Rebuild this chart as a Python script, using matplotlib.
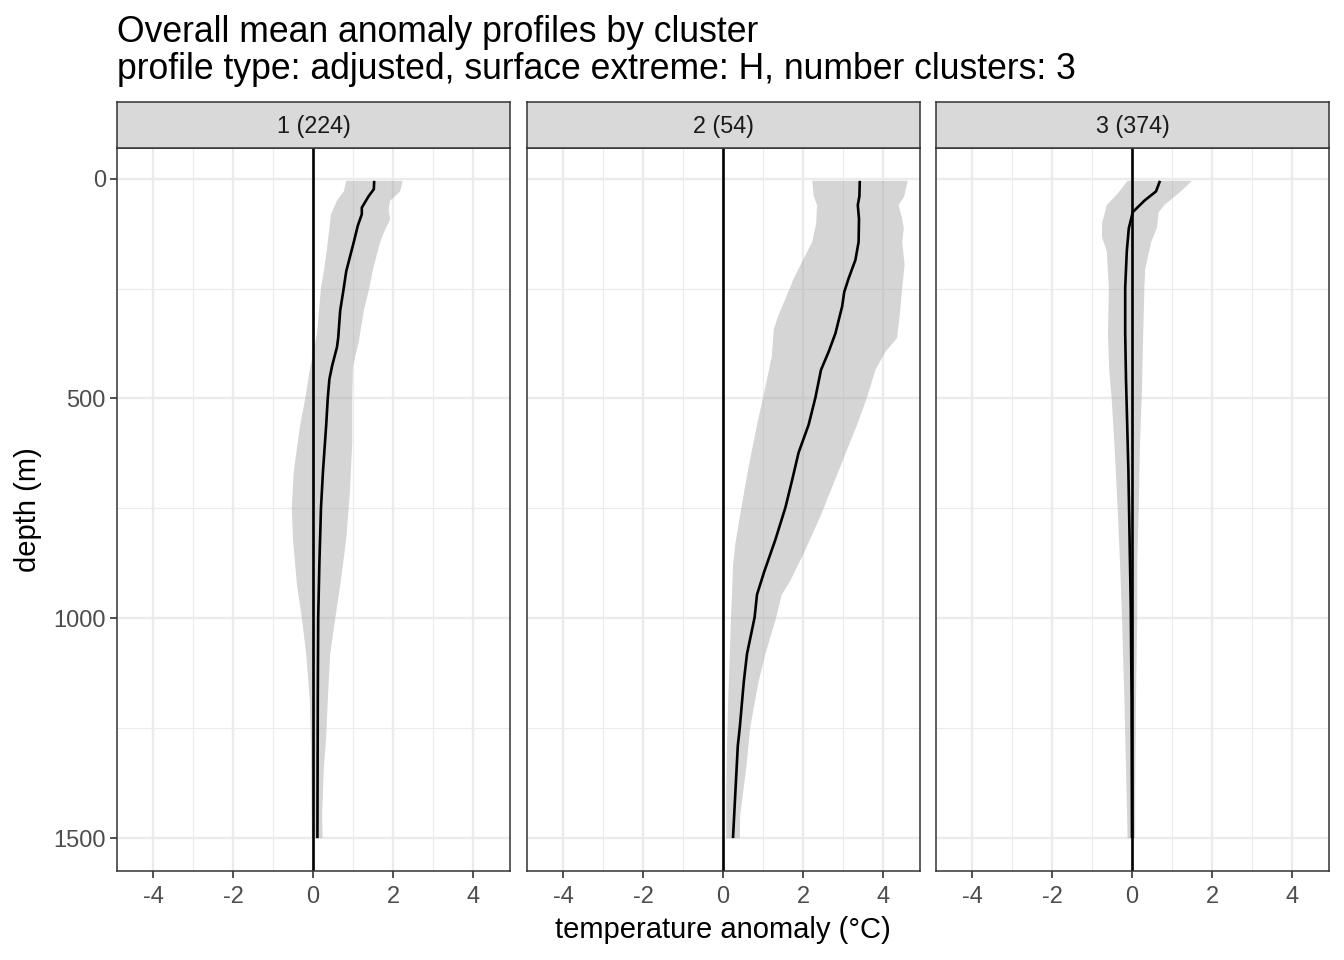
import numpy as np
import matplotlib
matplotlib.use("Agg")
import matplotlib.pyplot as plt
from matplotlib.ticker import FixedLocator

plt.rcParams['font.family'] = ['Liberation Sans', 'DejaVu Sans']
plt.rcParams['axes.unicode_minus'] = False

title_line1 = "Overall mean anomaly profiles by cluster"
title_line2 = "profile type: adjusted, surface extreme: H, number clusters: 3"
strip_labels = ["1 (224)", "2 (54)", "3 (374)"]
xlabel = "temperature anomaly (\u00b0C)"
ylabel = "depth (m)"
x_ticks = [-4, -2, 0, 2, 4]
x_minor = [-3, -1, 1, 3]
y_ticks = [0, 500, 1000, 1500]
y_minor = [250, 750, 1250]

# cluster 1
c1_mean_d = [5, 24, 40, 66, 81, 107, 144, 211, 248, 300, 362, 383, 425, 456, 498, 560, 665, 748, 873, 998, 1185, 1500]
c1_mean_x = [1.53, 1.52, 1.39, 1.22, 1.22, 1.12, 1.02, 0.83, 0.77, 0.68, 0.63, 0.60, 0.48, 0.41, 0.37, 0.33, 0.25, 0.20, 0.16, 0.13, 0.12, 0.11]
c1_lo_d = [5, 29, 50, 81, 144, 206, 248, 352, 383, 435, 498, 560, 665, 748, 821, 925, 998, 1081, 1185, 1290, 1394, 1500]
c1_lo_x = [0.83, 0.77, 0.60, 0.45, 0.37, 0.28, 0.20, 0.10, 0.03, -0.08, -0.19, -0.32, -0.48, -0.53, -0.50, -0.40, -0.28, -0.17, -0.08, -0.05, -0.04, -0.03]
c1_hi_d = [5, 29, 50, 71, 92, 123, 144, 206, 248, 300, 373, 425, 498, 602, 717, 821, 925, 998, 1081, 1185, 1269, 1342, 1446, 1500]
c1_hi_x = [2.24, 2.18, 1.93, 1.89, 1.93, 1.77, 1.68, 1.50, 1.41, 1.27, 1.14, 1.00, 0.98, 0.98, 0.92, 0.83, 0.68, 0.56, 0.43, 0.37, 0.33, 0.27, 0.23, 0.24]

# cluster 2
c2_mean_d = [5, 40, 60, 92, 144, 185, 227, 258, 290, 352, 394, 435, 498, 560, 623, 685, 748, 821, 894, 946, 998, 1081, 1144, 1248, 1290, 1394, 1500]
c2_mean_x = [3.42, 3.41, 3.37, 3.40, 3.39, 3.31, 3.14, 3.03, 2.98, 2.81, 2.64, 2.45, 2.31, 2.14, 1.89, 1.73, 1.56, 1.31, 1.03, 0.85, 0.79, 0.60, 0.52, 0.42, 0.37, 0.31, 0.25]
c2_lo_d = [5, 40, 60, 102, 144, 185, 227, 269, 310, 342, 404, 456, 498, 560, 665, 769, 830, 880, 935, 998, 1081, 1185, 1290, 1394, 1500]
c2_lo_x = [2.23, 2.27, 2.35, 2.33, 2.23, 2.00, 1.77, 1.58, 1.39, 1.27, 1.22, 1.10, 1.00, 0.85, 0.62, 0.42, 0.31, 0.25, 0.23, 0.20, 0.17, 0.13, 0.10, 0.08, 0.08]
c2_hi_d = [5, 40, 60, 92, 113, 144, 196, 248, 310, 363, 394, 435, 498, 560, 665, 769, 852, 915, 946, 998, 1081, 1144, 1248, 1342, 1446, 1500]
c2_hi_x = [4.62, 4.53, 4.39, 4.48, 4.52, 4.48, 4.54, 4.48, 4.42, 4.35, 4.06, 3.81, 3.60, 3.35, 2.89, 2.43, 2.02, 1.68, 1.47, 1.33, 1.06, 0.89, 0.68, 0.58, 0.43, 0.42]

# cluster 3
c3_mean_d = [5, 29, 50, 76, 113, 165, 248, 352, 456, 560, 665, 769, 873, 977, 1185, 1500]
c3_mean_x = [0.70, 0.60, 0.31, 0.02, -0.08, -0.13, -0.17, -0.17, -0.15, -0.12, -0.09, -0.07, -0.05, -0.03, -0.01, 0.0]
c3_lo_d = [5, 34, 60, 102, 133, 165, 248, 352, 435, 498, 602, 748, 873, 998, 1185, 1342, 1500]
c3_lo_x = [-0.11, -0.36, -0.63, -0.75, -0.75, -0.63, -0.58, -0.60, -0.57, -0.51, -0.44, -0.36, -0.30, -0.25, -0.19, -0.15, -0.11]
c3_hi_d = [5, 29, 60, 76, 113, 144, 206, 248, 352, 477, 602, 748, 873, 998, 1185, 1394, 1500]
c3_hi_x = [1.50, 1.22, 0.81, 0.67, 0.62, 0.48, 0.33, 0.31, 0.28, 0.25, 0.20, 0.17, 0.13, 0.13, 0.10, 0.08, 0.08]

clusters = [
    (c1_mean_d, c1_mean_x, c1_lo_d, c1_lo_x, c1_hi_d, c1_hi_x),
    (c2_mean_d, c2_mean_x, c2_lo_d, c2_lo_x, c2_hi_d, c2_hi_x),
    (c3_mean_d, c3_mean_x, c3_lo_d, c3_lo_x, c3_hi_d, c3_hi_x),
]

W, H = 1344, 960
fig = plt.figure(figsize=(W / 100, H / 100), dpi=100)

panel_lefts = [117, 527, 936]
panel_w = 393
panel_top, panel_bot = 148, 871
strip_top = 102

grid_col = '#EBEBEB'
dark = '#333333'

for i, (md, mx, ld, lx, hd, hx) in enumerate(clusters):
    l = panel_lefts[i]
    ax = fig.add_axes([l / W, 1 - panel_bot / H, panel_w / W, (panel_bot - panel_top) / H])
    ax.set_xlim(-4.9, 4.925)
    ax.set_ylim(1574.7, -69.7)
    ax.set_facecolor('white')
    ax.xaxis.set_major_locator(FixedLocator(x_ticks))
    ax.xaxis.set_minor_locator(FixedLocator(x_minor))
    ax.yaxis.set_major_locator(FixedLocator(y_ticks))
    ax.yaxis.set_minor_locator(FixedLocator(y_minor))
    ax.grid(True, which='major', color=grid_col, lw=1.7, zorder=0)
    ax.grid(True, which='minor', color=grid_col, lw=0.85, zorder=0)
    ax.set_axisbelow(True)
    ax.tick_params(which='minor', length=0)
    ax.tick_params(which='major', length=5, width=1.2, color=dark,
                   labelsize=17, labelcolor='#4D4D4D', pad=3)
    ax.tick_params(axis='x', which='major', pad=6)
    if i > 0:
        ax.tick_params(axis='y', which='both', left=False, labelleft=False)
    for s in ax.spines.values():
        s.set_color(dark)
        s.set_linewidth(1.1)
        s.set_zorder(5)
    # band
    bx = np.concatenate([np.array(lx), np.array(hx)[::-1]])
    by = np.concatenate([np.array(ld), np.array(hd)[::-1]])
    ax.fill(bx, by, color='#A6A6A6', alpha=0.47, lw=0, zorder=1)
    ax.axvline(0, color='black', lw=1.9, zorder=2)
    ax.plot(mx, md, color='black', lw=1.9, zorder=3, solid_capstyle='butt',
            solid_joinstyle='round')

    # strip
    sax = fig.add_axes([l / W, 1 - panel_top / H, panel_w / W, (panel_top - strip_top) / H])
    sax.set_facecolor('#D9D9D9')
    sax.set_xticks([])
    sax.set_yticks([])
    for s in sax.spines.values():
        s.set_color(dark)
        s.set_linewidth(1.1)
    sax.text(0.5, 0.47, strip_labels[i], transform=sax.transAxes, ha='center',
             va='center', fontsize=16.8, color='#1A1A1A')

fig.text(117 / W, 1 - 42 / H, title_line1, fontsize=25.6, ha='left', va='baseline', color='black')
fig.text(117 / W, 1 - 79 / H, title_line2, fontsize=25.6, ha='left', va='baseline', color='black')
fig.text(723 / W, 1 - 938 / H, xlabel, fontsize=21, ha='center', va='baseline', color='black')
fig.text(28 / W, 1 - 510 / H, ylabel, fontsize=21, ha='center', va='center', rotation=90, color='black')

fig.savefig('out.png', dpi=100, facecolor='white')
